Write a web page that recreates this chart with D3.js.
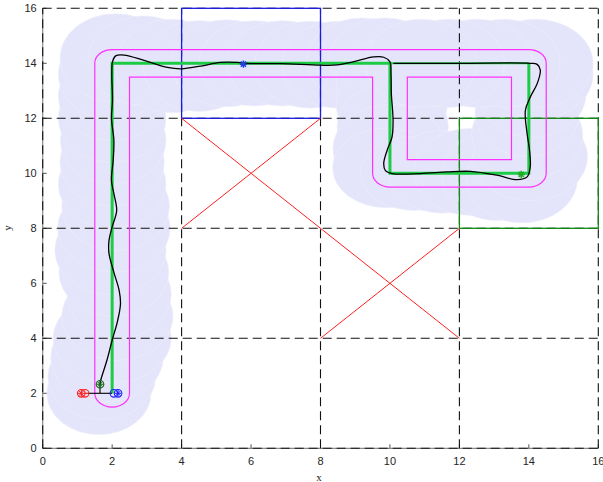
<!DOCTYPE html>
<html>
<head>
<meta charset="utf-8">
<script src="https://cdn.jsdelivr.net/npm/d3@7"></script>
<style>
  html, body { margin: 0; padding: 0; background: #ffffff; }
  svg { display: block; }
</style>
</head>
<body>
<script>
// ---------------- DATA ----------------
const xTicks = [0, 2, 4, 6, 8, 10, 12, 14, 16];
const yTicks = [0, 2, 4, 6, 8, 10, 12, 14, 16];
const gridVals = [0, 4, 8, 12, 16];

// uncertainty ellipses along the trajectory: [cx, cy, rx, ry] (data units)
const blobEllipses = [
  [1.62, 2.0, 1.5, 1.5], [1.7, 2.6, 1.55, 1.55], [1.85, 3.3, 1.62, 1.6], [2.0, 4.0, 1.7, 1.62],
  [2.15, 4.8, 1.6, 1.6], [2.2, 5.6, 1.5, 1.6], [2.05, 6.4, 1.58, 1.6], [1.95, 7.2, 1.6, 1.6],
  [2.05, 8.0, 1.62, 1.6], [2.1, 8.8, 1.55, 1.6], [2.0, 9.6, 1.55, 1.6], [2.0, 10.4, 1.5, 1.6],
  [2.03, 11.2, 1.52, 1.6], [2.0, 12.0, 1.55, 1.6], [2.0, 12.8, 1.55, 1.6], [2.0, 13.6, 1.55, 1.65],
  [2.1, 14.2, 1.6, 1.6],
  [2.9, 14.1, 1.6, 1.62], [3.7, 13.9, 1.6, 1.7], [4.5, 13.9, 1.6, 1.65], [5.3, 14.0, 1.6, 1.58],
  [6.1, 14.0, 1.6, 1.55], [6.9, 14.0, 1.6, 1.55], [7.7, 13.95, 1.6, 1.58], [8.5, 13.95, 1.6, 1.58],
  [9.2, 14.1, 1.6, 1.55], [9.85, 14.15, 1.6, 1.5],
  [10.05, 13.3, 1.6, 1.6], [10.05, 12.5, 1.6, 1.6], [10.08, 11.7, 1.6, 1.6], [9.98, 10.9, 1.62, 1.6],
  [9.9, 10.2, 1.55, 1.45],
  [10.7, 10.0, 1.55, 1.35], [11.5, 10.05, 1.55, 1.5], [12.3, 10.05, 1.6, 1.58], [13.1, 9.93, 1.6, 1.65],
  [13.8, 9.8, 1.6, 1.6],
  [14.04, 10.6, 1.65, 1.6], [13.95, 11.4, 1.6, 1.6], [13.95, 12.2, 1.5, 1.6], [14.1, 12.9, 1.55, 1.6],
  [14.3, 13.6, 1.55, 1.6], [14.2, 14.0, 1.65, 1.6],
  [13.3, 14.0, 1.6, 1.6], [12.5, 14.0, 1.6, 1.6], [11.7, 14.0, 1.6, 1.6], [10.9, 14.0, 1.6, 1.6]
];

// planned route (bright green)
const routeMain = [[2, 2], [2, 14], [10, 14], [10, 10], [14, 10], [14, 14]];
const routeClose = [[14, 14], [10, 14]];

// lane boundaries (magenta), offset 0.5 from the route
const laneOffset = 0.5;
const laneOuter = [
  ['M', 1.5, 2], ['L', 1.5, 14], ['A', 2, 14.5], ['L', 14, 14.5], ['A', 14.5, 14],
  ['L', 14.5, 10], ['A', 14, 9.5], ['L', 10, 9.5], ['A', 9.5, 10], ['L', 9.5, 13.5],
  ['L', 2.5, 13.5], ['L', 2.5, 2], ['A', 2, 1.5], ['A', 1.5, 2], ['Z']
];
const laneInner = [[10.5, 10.5], [13.5, 10.5], [13.5, 13.5], [10.5, 13.5]];

// actual trajectory (black)
const trajectory = [
  [1.65, 2.33], [1.67, 2.47], [1.85, 3.2], [2.0, 3.93], [2.15, 4.6], [2.24, 5.26], [2.2, 5.75],
  [2.05, 6.4], [1.91, 7.08], [1.91, 7.56], [2.0, 8.05], [2.13, 8.65], [2.05, 9.26], [1.98, 9.75],
  [2.03, 10.47], [2.05, 11.2], [1.98, 12.0], [2.01, 12.65], [1.99, 13.6], [2.01, 14.05],
  [2.1, 14.27], [2.34, 14.3], [2.92, 14.11], [3.59, 13.85], [4.0, 13.8], [4.55, 13.9],
  [5.12, 14.03], [5.6, 14.03], [6.0, 13.99], [6.85, 13.99], [8.0, 13.93], [8.48, 13.94],
  [8.96, 14.06], [9.53, 14.23], [9.82, 14.22], [10.0, 14.05], [10.03, 13.63], [10.04, 12.9],
  [10.09, 11.93], [10.06, 11.32], [9.92, 10.84], [9.82, 10.35], [9.87, 10.1], [10.06, 9.99],
  [10.88, 9.99], [11.65, 10.05], [12.32, 10.07], [13.08, 9.93], [13.66, 9.77], [13.95, 9.87],
  [14.04, 10.23], [14.02, 10.84], [13.95, 11.44], [13.9, 12.29], [14.04, 12.77], [14.24, 13.26],
  [14.33, 13.75], [14.24, 13.96], [14.04, 14.0], [12.0, 14.0], [10.1, 14.0]
];

// robot pose marks near the start
const poseBlack = [[[1.65, 2.33], [1.65, 2.0]], [[1.3, 2.0], [2.0, 2.0]]];
const poseRed = [[[1.2, 2.0], [1.3, 2.0]]];

// occupancy cells
const blueCell = [4, 12, 8, 16];
const greenCell = [12, 8, 16, 12];
const redLines = [[[4, 12], [12, 4]], [[4, 8], [8, 12]], [[8, 4], [12, 8]]];

// markers
const redCircles = [[1.11, 2.0], [1.22, 2.0]];
const redStars = [[1.11, 2.0]];
const blueCircles = [[2.05, 2.0], [2.17, 2.0]];
const blueStars = [[2.17, 2.0]];
const startCircles = [[1.65, 2.33]];
const startStars = [[1.65, 2.33]];
const blueGoal = [[5.78, 13.97]];
const greenGoal = [[13.78, 9.96]];

// ---------------- DRAW ----------------
const W = 603, H = 482;
const xs = d3.scaleLinear().domain([0, 16]).range([42.7, 598.3]);
const ys = d3.scaleLinear().domain([0, 16]).range([448.3, 8.3]);

const svg = d3.select('body').append('svg').attr('width', W).attr('height', H);

// blob
svg.append('g').selectAll('ellipse').data(blobEllipses).join('ellipse')
  .attr('cx', d => xs(d[0])).attr('cy', d => ys(d[1]))
  .attr('rx', d => xs(d[2]) - xs(0)).attr('ry', d => ys(0) - ys(d[3]))
  .attr('fill', '#e4e4fa').attr('stroke', '#eeeefc').attr('stroke-width', 0.6);

// axis base lines (left, bottom)
svg.append('line').attr('x1', xs(0)).attr('x2', xs(0)).attr('y1', ys(0)).attr('y2', ys(16))
  .attr('stroke', '#8a8a8a').attr('stroke-width', 1.2);
svg.append('line').attr('x1', xs(0)).attr('x2', xs(16)).attr('y1', ys(0)).attr('y2', ys(0))
  .attr('stroke', '#8a8a8a').attr('stroke-width', 1.2);

// ticks
const tickG = svg.append('g').attr('stroke', '#555').attr('stroke-width', 1);
xTicks.forEach(t => {
  tickG.append('line').attr('x1', xs(t)).attr('x2', xs(t)).attr('y1', ys(0)).attr('y2', ys(0) - 4);
});
yTicks.forEach(t => {
  tickG.append('line').attr('x1', xs(0)).attr('x2', xs(0) + 4).attr('y1', ys(t)).attr('y2', ys(t));
});

// grid
const gridG = svg.append('g').attr('stroke', '#111').attr('stroke-width', 1.1)
  .attr('stroke-dasharray', '9,5').attr('fill', 'none');
gridVals.forEach(v => {
  gridG.append('line').attr('x1', xs(v)).attr('x2', xs(v)).attr('y1', ys(0)).attr('y2', ys(16));
  gridG.append('line').attr('x1', xs(0)).attr('x2', xs(16)).attr('y1', ys(v)).attr('y2', ys(v));
});

// cells
function rect(c, color, w) {
  svg.append('rect').attr('x', xs(c[0])).attr('y', ys(c[3]))
    .attr('width', xs(c[2]) - xs(c[0])).attr('height', ys(c[1]) - ys(c[3]))
    .attr('fill', 'none').attr('stroke', color).attr('stroke-width', w);
}
rect(blueCell, '#1a1ae0', 1.3);
rect(greenCell, '#108a10', 1.3);

svg.append('g').selectAll('line').data(redLines).join('line')
  .attr('x1', d => xs(d[0][0])).attr('y1', d => ys(d[0][1]))
  .attr('x2', d => xs(d[1][0])).attr('y2', d => ys(d[1][1]))
  .attr('stroke', '#ff2020').attr('stroke-width', 1);

// lane boundaries
const rxL = xs(laneOffset) - xs(0), ryL = ys(0) - ys(laneOffset);
let dStr = '';
laneOuter.forEach(c => {
  if (c[0] === 'Z') dStr += 'Z';
  else if (c[0] === 'A') dStr += `A${rxL},${ryL} 0 0 1 ${xs(c[1])},${ys(c[2])}`;
  else dStr += `${c[0]}${xs(c[1])},${ys(c[2])}`;
});
svg.append('path').attr('d', dStr).attr('fill', 'none').attr('stroke', '#ff30ff').attr('stroke-width', 1.2);
svg.append('path').attr('d', d3.line().x(d => xs(d[0])).y(d => ys(d[1]))(laneInner) + 'Z')
  .attr('fill', 'none').attr('stroke', '#ff30ff').attr('stroke-width', 1.2);

// route
const lineXY = d3.line().x(d => xs(d[0])).y(d => ys(d[1]));
svg.append('path').attr('d', lineXY(routeMain)).attr('fill', 'none')
  .attr('stroke', '#1ccc44').attr('stroke-width', 3).attr('stroke-linejoin', 'miter');
svg.append('path').attr('d', lineXY(routeClose)).attr('fill', 'none')
  .attr('stroke', '#1ccc44').attr('stroke-width', 2);

// trajectory
svg.append('path').attr('d', d3.line().x(d => xs(d[0])).y(d => ys(d[1])).curve(d3.curveCatmullRom.alpha(0.5))(trajectory))
  .attr('fill', 'none').attr('stroke', '#000').attr('stroke-width', 1.3);

poseBlack.forEach(s => svg.append('path').attr('d', lineXY(s)).attr('stroke', '#000').attr('stroke-width', 1.1));
poseRed.forEach(s => svg.append('path').attr('d', lineXY(s)).attr('stroke', '#ff0000').attr('stroke-width', 1.1));

// markers
function circles(data, color, r) {
  svg.append('g').selectAll('circle').data(data).join('circle')
    .attr('cx', d => xs(d[0])).attr('cy', d => ys(d[1])).attr('r', r)
    .attr('fill', 'none').attr('stroke', color).attr('stroke-width', 1.1);
}
function stars(data, color, r, w) {
  data.forEach(d => {
    const cx = xs(d[0]), cy = ys(d[1]);
    const k = r * 0.72;
    const p = `M${cx - r},${cy}L${cx + r},${cy}M${cx},${cy - r}L${cx},${cy + r}` +
      `M${cx - k},${cy - k}L${cx + k},${cy + k}M${cx - k},${cy + k}L${cx + k},${cy - k}`;
    svg.append('path').attr('d', p).attr('stroke', color).attr('stroke-width', w).attr('fill', 'none');
  });
}
circles(redCircles, '#ff2020', 3.8);
stars(redStars, '#ff2020', 3.6, 1);
circles(blueCircles, '#2020ff', 3.8);
stars(blueStars, '#2020ff', 3.6, 1);
circles(startCircles, '#116611', 3.8);
stars(startStars, '#116611', 3.6, 1);
stars(blueGoal, '#2040e0', 3.6, 1.5);
stars(greenGoal, '#22aa22', 3.6, 1.5);

// tick labels
const lab = svg.append('g').attr('font-family', '"Liberation Sans", Arial, sans-serif')
  .attr('font-size', 11).attr('fill', '#262626');
xTicks.forEach(t => {
  lab.append('text').attr('x', xs(t)).attr('y', ys(0) + 17).attr('text-anchor', 'middle').text(t);
});
yTicks.forEach(t => {
  lab.append('text').attr('x', xs(0) - 6).attr('y', ys(t) + 4).attr('text-anchor', 'end').text(t);
});

// axis titles
svg.append('text').attr('x', 319).attr('y', 481).attr('text-anchor', 'middle')
  .attr('font-family', '"Liberation Serif", "Times New Roman", serif').attr('font-size', 11).attr('fill', '#262626').text('x');
svg.append('text').attr('transform', 'translate(11,228) rotate(-90)').attr('text-anchor', 'middle')
  .attr('font-family', '"Liberation Serif", "Times New Roman", serif').attr('font-size', 11).attr('fill', '#262626').text('y');
</script>
</body>
</html>
